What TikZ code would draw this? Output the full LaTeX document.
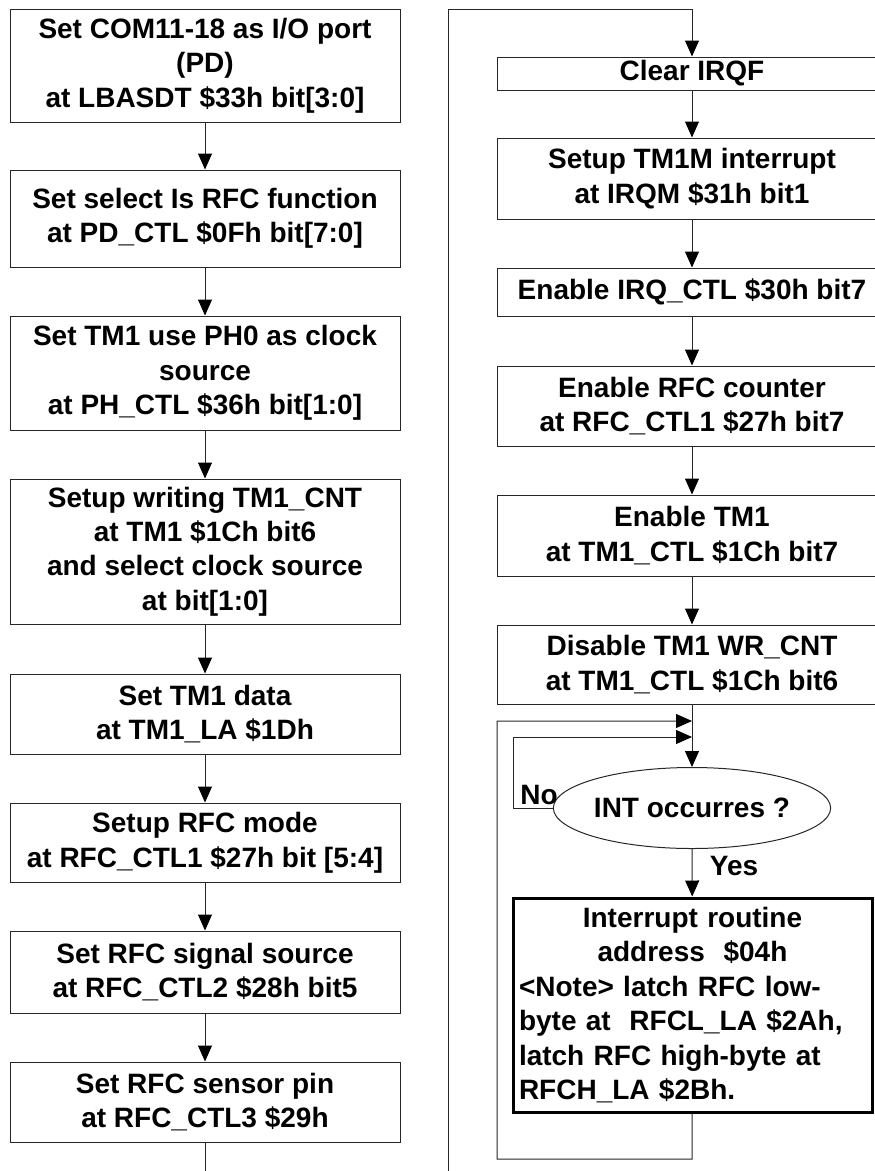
\documentclass[tikz,border=0pt]{standalone}
\usepackage{fontspec}
\setmainfont{Liberation Sans}
\usetikzlibrary{arrows.meta,shapes.geometric}

\begin{document}
\begin{tikzpicture}[x=1pt,y=-1pt,
  line width=1pt,
  every node/.style={font=\bfseries\fontsize{28}{34.5}\selectfont},
  box/.style={draw=black!85,rectangle,minimum width=390pt,align=center,inner sep=0pt},
  flow/.style={draw=black!85,-{Triangle[length=16pt,width=14pt,color=black]}}]
\useasboundingbox (0,0) rectangle (875,1171);

% left column
\node[box,minimum height=113pt] (b1) at (205,65.5) {Set COM11-18 as I/O port\\(PD)\\at LBASDT \$33h bit[3:0]};
\node[box,minimum height=97pt]  (b2) at (205,218.5) {Set select Is RFC function\\at PD\_CTL \$0Fh bit[7:0]};
\node[box,minimum height=114pt] (b3) at (205,373) {Set TM1 use PH0 as clock\\source\\at PH\_CTL \$36h bit[1:0]};
\node[box,minimum height=145pt] (b4) at (205,551.5) {Setup writing TM1\_CNT\\at TM1 \$1Ch bit6\\and select clock source\\at bit[1:0]};
\node[box,minimum height=80pt]  (b5) at (205,714) {Set TM1 data\\at TM1\_LA \$1Dh};
\node[box,minimum height=79pt]  (b6) at (205,842.5) {Setup RFC mode\\at RFC\_CTL1 \$27h bit [5:4]};
\node[box,minimum height=82pt]  (b7) at (205,972) {Set RFC signal source\\at RFC\_CTL2 \$28h bit5};
\node[box,minimum height=80pt]  (b8) at (205,1102) {Set RFC sensor pin\\at RFC\_CTL3 \$29h};
\coordinate (lout) at (205,1171);

\draw[flow] (b1) -- (b2);
\draw[flow] (b2) -- (b3);
\draw[flow] (b3) -- (b4);
\draw[flow] (b4) -- (b5);
\draw[flow] (b5) -- (b6);
\draw[flow] (b6) -- (b7);
\draw[flow] (b7) -- (b8);
\draw[draw=black!85] (b8) -- (lout);

% right column
\coordinate (rin) at (448,1171);
\coordinate (rtop) at (692,9);
\node[box,minimum height=33pt] (r1) at (692,73.5) {Clear IRQF};
\node[box,minimum height=81pt] (r2) at (692,178.5) {Setup TM1M interrupt\\at IRQM \$31h bit1};
\node[box,minimum height=48pt] (r3) at (692,292) {Enable IRQ\_CTL \$30h bit7};
\node[box,minimum height=80pt] (r4) at (692,406) {Enable RFC counter\\at RFC\_CTL1 \$27h bit7};
\node[box,minimum height=81pt] (r5) at (692,535.5) {Enable TM1\\at TM1\_CTL \$1Ch bit7};
\node[box,minimum height=79pt] (r6) at (692,664.5) {Disable TM1 WR\_CNT\\at TM1\_CTL \$1Ch bit6};
\node[draw=black!85,ellipse,minimum width=261pt,minimum height=81pt,inner sep=0pt] (int) at (692,808) {INT occurres ?};
\node[draw=black,line width=3pt,rectangle,minimum width=359pt,minimum height=214pt,
  text width=347pt,align=left,inner sep=0pt] (isr) at (692.5,1005)
  {{\centering Interrupt routine\\ address \ \$04h\par}\raggedright
   {<}Note{>} latch RFC low-\\byte at \ RFCL\_LA \$2Ah,\\latch RFC high-byte at\\RFCH\_LA \$2Bh.};
\node (no) at (539,795) {No};
\node (yes) at (734,866) {Yes};

\coordinate (j1) at (692,721);
\coordinate (j2) at (692,737);
\coordinate (nol) at (513,808);
\coordinate (back) at (692,1159);

\draw[flow] (rin) -- (448,9) -- (rtop) -- (r1);
\draw[flow] (r1) -- (r2);
\draw[flow] (r2) -- (r3);
\draw[flow] (r3) -- (r4);
\draw[flow] (r4) -- (r5);
\draw[flow] (r5) -- (r6);
\draw[flow] (r6) -- (int);
\draw[flow] (int.west) -- (nol) |- (j2);
\draw[flow] (int) -- (isr);
\draw[flow] (isr) -- (back) -| (497,721) -- (j1);
\end{tikzpicture}
\end{document}
